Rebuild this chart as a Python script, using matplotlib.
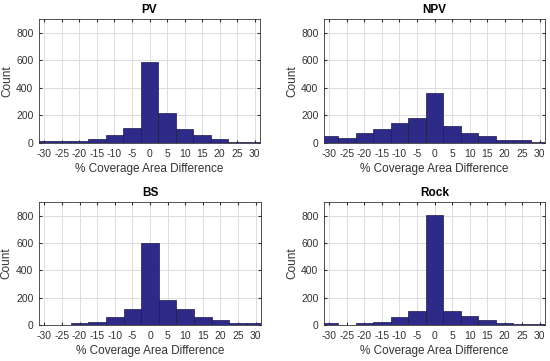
import numpy as np
import matplotlib
matplotlib.use("Agg")
import matplotlib.pyplot as plt

plt.rcParams['font.family'] = ['Liberation Sans', 'DejaVu Sans']
plt.rcParams['axes.unicode_minus'] = False

BIN_CENTERS = [-30, -25, -20, -15, -10, -5, 0, 5, 10, 15, 20, 25, 30]
TITLES = ["PV", "NPV", "BS", "Rock"]
PV_COUNTS = [12, 18, 18, 28, 60, 110, 585, 220, 98, 55, 30, 10, 10]
NPV_COUNTS = [50, 35, 70, 100, 145, 185, 365, 125, 75, 50, 25, 25, 8]
BS_COUNTS = [2, 2, 12, 20, 62, 120, 600, 185, 120, 55, 35, 12, 18]
ROCK_COUNTS = [12, 2, 18, 25, 55, 100, 805, 105, 65, 35, 12, 10, 5]
X_TICKS = [-30, -25, -20, -15, -10, -5, 0, 5, 10, 15, 20, 25, 30]
Y_TICKS = [0, 200, 400, 600, 800]

BAR_COLOR = "#2e2a87"
TEXT_COLOR = "#333333"
W, H = 550, 361

fig = plt.figure(figsize=(W / 100, H / 100), dpi=100)

# axes boxes in pixels: left, top, right, bottom
boxes = [(39, 19, 260, 143), (324, 19, 545, 143),
         (39, 202, 261, 325), (324, 202, 545, 325)]
all_counts = [PV_COUNTS, NPV_COUNTS, BS_COUNTS, ROCK_COUNTS]

for title, counts, (l, t, r, b) in zip(TITLES, all_counts, boxes):
    ax = fig.add_axes([l / W, 1 - b / H, (r - l) / W, (b - t) / H])
    ax.bar(BIN_CENTERS, counts, width=5, color=BAR_COLOR,
           edgecolor="#1a1850", linewidth=0.5, zorder=3)
    ax.set_xlim(-31.5, 31.5)
    ax.set_ylim(0, 900)
    ax.set_xticks(X_TICKS)
    ax.set_yticks(Y_TICKS)
    ax.grid(True, color="#dcdcdc", linewidth=0.7, zorder=0)
    ax.tick_params(direction="in", length=2, labelsize=7.5,
                   colors=TEXT_COLOR, top=True, right=True)
    ax.tick_params(axis="y", pad=4)
    ax.tick_params(axis="x", pad=4)
    for s in ax.spines.values():
        s.set_color(TEXT_COLOR)
        s.set_linewidth(0.6)
    ax.set_title(title, fontsize=8.5, fontweight="bold", pad=4)
    ax.set_xlabel("% Coverage Area Difference", fontsize=8.5, color=TEXT_COLOR)
    ax.xaxis.set_label_coords(0.5, -0.165)
    ax.set_ylabel("Count", fontsize=8.5, color=TEXT_COLOR)
    ax.yaxis.set_label_coords(-0.118, 0.5)

fig.savefig("out.png", dpi=100)
